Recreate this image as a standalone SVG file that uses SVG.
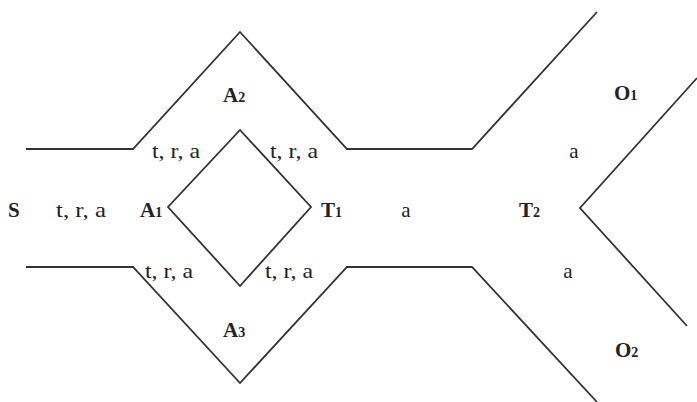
<svg xmlns="http://www.w3.org/2000/svg" width="697" height="402" viewBox="0 0 697 402">
<style>
.wall{fill:none;stroke:#333;stroke-width:1.8;stroke-linejoin:miter}
.lbl{font-family:"Liberation Serif","Times New Roman",serif;font-size:21px;fill:#222}
.b{font-weight:bold}
.sub{font-size:14px}
.c{text-anchor:middle}
</style>
<rect width="697" height="402" fill="#fff"/>
<g id="walls">
<polyline class="wall" points="26,149 133,149 240,32 347,149 472,149 597,12"/>
<polyline class="wall" points="26,267 133,267 240,383 347,267 472,267 597,402"/>
<polygon class="wall" points="240,130 311,207 240,286 168,207"/>
<polyline class="wall" points="697,78 580,208 687,326"/>
</g>
<g id="S"><text class="lbl b" x="8" y="217">S</text></g>
<g id="lbl-S-A1"><text class="lbl" x="56" y="217" textLength="50" lengthAdjust="spacingAndGlyphs">t, r, a</text></g>
<g id="A1"><text class="lbl b" x="140" y="217">A<tspan class="sub">1</tspan></text></g>
<g id="A2"><text class="lbl b" x="223" y="102">A<tspan class="sub">2</tspan></text></g>
<g id="A3"><text class="lbl b" x="223" y="337">A<tspan class="sub">3</tspan></text></g>
<g id="T1"><text class="lbl b" x="321" y="217">T<tspan class="sub">1</tspan></text></g>
<g id="T2"><text class="lbl b" x="519" y="217">T<tspan class="sub">2</tspan></text></g>
<g id="O1"><text class="lbl b" x="614" y="100">O<tspan class="sub">1</tspan></text></g>
<g id="O2"><text class="lbl b" x="615" y="357">O<tspan class="sub">2</tspan></text></g>
<g id="labels">
<text class="lbl" x="152" y="158" textLength="48" lengthAdjust="spacingAndGlyphs">t, r, a</text>
<text class="lbl" x="270" y="158" textLength="48" lengthAdjust="spacingAndGlyphs">t, r, a</text>
<text class="lbl" x="145" y="278" textLength="48" lengthAdjust="spacingAndGlyphs">t, r, a</text>
<text class="lbl" x="265" y="278" textLength="48" lengthAdjust="spacingAndGlyphs">t, r, a</text>
<text class="lbl c" x="406" y="217">a</text>
<text class="lbl c" x="574" y="158">a</text>
<text class="lbl c" x="568" y="278">a</text>
</g>
</svg>
